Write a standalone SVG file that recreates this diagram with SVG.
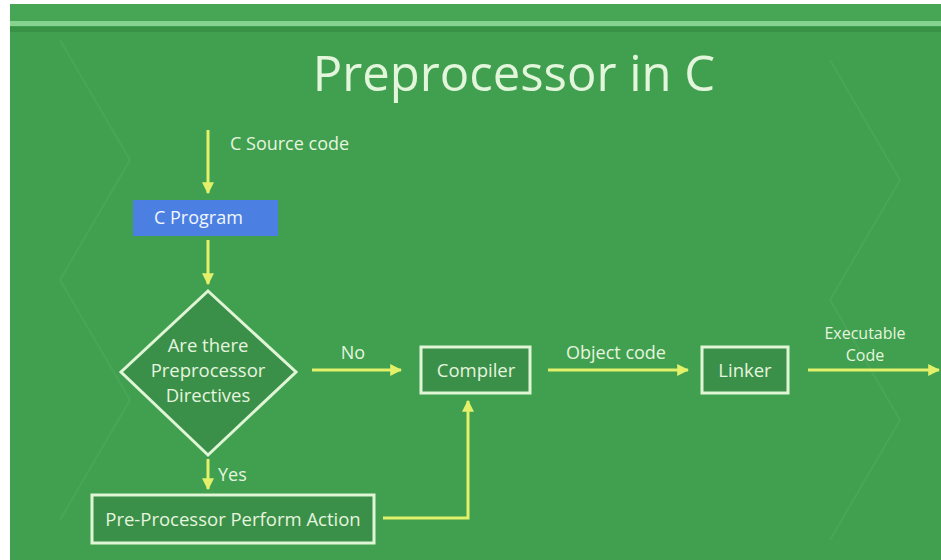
<svg xmlns="http://www.w3.org/2000/svg" width="941" height="560" viewBox="0 0 941 560">
<defs>
<marker id="ah" viewBox="0 0 10 10" refX="9" refY="5" markerWidth="4" markerHeight="4" orient="auto" markerUnits="strokeWidth">
<path d="M0,0 L10,5 L0,10 z" fill="#e2f06a"/>
</marker>
<style>
text{font-family:"Open Sans","Noto Sans","DejaVu Sans",sans-serif;fill:#e6f5df}
.lbl{font-size:18px}
.node{font-size:18.5px;text-anchor:middle}
.box{fill:#3a8f49;stroke:#dff5d6;stroke-width:3}
.conn{stroke:#e2f06a;stroke-width:3;fill:none}
</style>
</defs>
<rect x="0" y="0" width="941" height="560" fill="#ffffff"/>
<rect x="10" y="4" width="931" height="556" fill="#40a04f"/>
<rect x="10" y="4" width="931" height="17" fill="#46a656"/>
<rect x="10" y="21" width="931" height="5" fill="#86d28f"/>
<rect x="10" y="27" width="931" height="5" fill="#379246"/>
<g opacity="0.05" stroke="#ffffff" fill="none" stroke-width="2">
<path d="M60,40 L130,160 L60,280 L130,400 L60,520"/>
<path d="M830,60 L900,180 L830,300 L900,420 L830,540"/>
</g>
<text x="514" y="91" style="font-size:49px;text-anchor:middle;fill:#e3f6dc">Preprocessor in C</text>
<g id="connectors">
<line class="conn" x1="208" y1="130" x2="208" y2="193" marker-end="url(#ah)"/>
<line class="conn" x1="208" y1="240" x2="208" y2="284" marker-end="url(#ah)"/>
<line class="conn" x1="312" y1="370" x2="401" y2="370" marker-end="url(#ah)"/>
<line class="conn" x1="548" y1="370" x2="688" y2="370" marker-end="url(#ah)"/>
<line class="conn" x1="808" y1="370" x2="939" y2="370" marker-end="url(#ah)"/>
<line class="conn" x1="208" y1="459" x2="208" y2="489" marker-end="url(#ah)"/>
<polyline class="conn" points="383,518 468,518 468,401" marker-end="url(#ah)"/>
<text class="lbl" x="230" y="150">C Source code</text>
<text class="lbl" x="353" y="359" text-anchor="middle">No</text>
<text class="lbl" x="616" y="359" text-anchor="middle">Object code</text>
<text x="865" y="339" text-anchor="middle" style="font-size:16px">Executable</text>
<text x="865" y="361" text-anchor="middle" style="font-size:16px">Code</text>
<text class="lbl" x="218" y="481">Yes</text>
</g>
<g id="c-program">
<rect x="133" y="200" width="145" height="36" fill="#4b80e2"/>
<text x="154" y="224" style="font-size:18px;fill:#f2f6ff">C Program</text>
</g>
<g id="decision">
<polygon points="208,291 296,372 208,455 121,372" class="box"/>
<text class="node" x="208" y="352">Are there</text>
<text class="node" x="208" y="377">Preprocessor</text>
<text class="node" x="208" y="402">Directives</text>
</g>
<g id="compiler">
<rect class="box" x="421" y="347" width="109" height="46"/>
<text class="node" x="476" y="377">Compiler</text>
</g>
<g id="linker">
<rect class="box" x="702" y="347" width="86" height="46"/>
<text class="node" x="745" y="377">Linker</text>
</g>
<g id="preprocessor">
<rect class="box" x="92" y="495" width="282" height="48"/>
<text class="node" x="233" y="526">Pre-Processor Perform Action</text>
</g>
</svg>
